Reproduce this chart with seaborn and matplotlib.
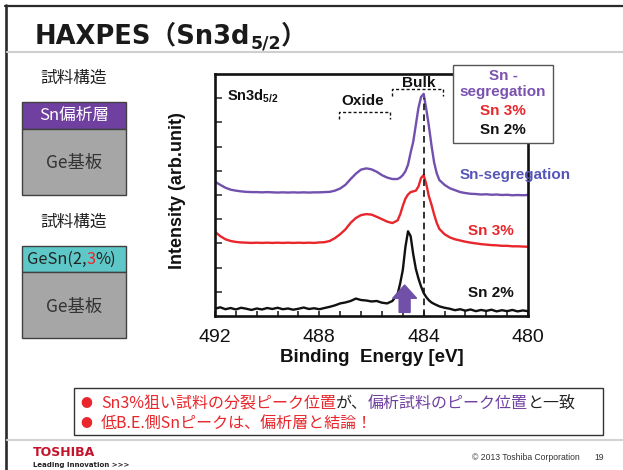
import matplotlib
matplotlib.use("Agg")
import numpy as np
import pandas as pd
import matplotlib.pyplot as plt
import seaborn as sns
from matplotlib.patches import Rectangle
from matplotlib.lines import Line2D
from matplotlib.text import Annotation
from matplotlib.ticker import MultipleLocator, FixedLocator

# ---------------- data ----------------
energy = [492.0, 491.8, 491.6, 491.4, 491.2, 491.0, 490.8, 490.6, 490.4, 490.2,
          490.0, 489.8, 489.6, 489.4, 489.2, 489.0, 488.8, 488.6, 488.4, 488.2,
          488.0, 487.8, 487.6, 487.4, 487.2, 487.0, 486.8, 486.6, 486.4, 486.2,
          486.0, 485.8, 485.6, 485.4, 485.2, 485.0, 484.9, 484.8, 484.7, 484.6,
          484.5, 484.4, 484.3, 484.2, 484.1, 484.0, 483.9, 483.8, 483.7, 483.6,
          483.5, 483.4, 483.2, 483.0, 482.8, 482.6, 482.4, 482.2, 482.0, 481.8,
          481.6, 481.4, 481.2, 481.0, 480.8, 480.6, 480.4, 480.2, 480.0]

sn_segregation = [5.55, 5.42, 5.30, 5.22, 5.18, 5.15, 5.13, 5.12, 5.12, 5.11,
                  5.12, 5.11, 5.10, 5.11, 5.10, 5.11, 5.10, 5.11, 5.10, 5.11,
                  5.11, 5.12, 5.13, 5.18, 5.27, 5.42, 5.66, 5.88, 6.05, 6.10,
                  6.06, 5.96, 5.82, 5.72, 5.66, 5.66, 5.72, 5.82, 5.98, 6.25,
                  6.75, 7.20, 7.90, 8.60, 9.05, 9.18, 8.55, 7.85, 7.05, 6.35,
                  5.90, 5.62, 5.42, 5.28, 5.20, 5.12, 5.08, 5.05, 5.04, 5.02,
                  5.03, 5.01, 5.02, 5.00, 5.01, 4.99, 5.00, 4.99, 5.00]

sn_3pct = [3.48, 3.30, 3.17, 3.10, 3.06, 3.04, 3.03, 3.02, 3.03, 3.02,
           3.03, 3.02, 3.03, 3.02, 3.03, 3.02, 3.03, 3.02, 3.03, 3.02,
           3.04, 3.05, 3.10, 3.22, 3.38, 3.58, 3.85, 4.05, 4.17, 4.21,
           4.19, 4.10, 4.00, 3.90, 3.84, 3.95, 4.20, 4.55, 4.85, 5.02,
           5.12, 5.15, 5.18, 5.35, 5.70, 5.82, 5.45, 4.95, 4.60, 4.20,
           3.85, 3.60, 3.38, 3.25, 3.17, 3.12, 3.07, 3.03, 3.00, 2.97,
           2.95, 2.93, 2.92, 2.90, 2.90, 2.88, 2.88, 2.87, 2.86]

sn_2pct = [0.30, 0.36, 0.28, 0.33, 0.27, 0.34, 0.30, 0.25, 0.31, 0.27,
           0.33, 0.29, 0.34, 0.28, 0.31, 0.26, 0.30, 0.35, 0.29, 0.32,
           0.28, 0.33, 0.38, 0.44, 0.52, 0.56, 0.62, 0.72, 0.66, 0.64,
           0.60, 0.62, 0.55, 0.52, 0.62, 0.90, 1.35, 1.90, 2.85, 3.50,
           3.30, 2.55, 1.95, 1.55, 1.22, 0.95, 0.78, 0.65, 0.56, 0.50,
           0.45, 0.40, 0.34, 0.30, 0.24, 0.28, 0.22, 0.27, 0.20, 0.25,
           0.21, 0.26, 0.19, 0.24, 0.20, 0.25, 0.19, 0.23, 0.20]

series_names = ["Sn-segregation", "Sn 3%", "Sn 2%"]
x_ticks = [492, 488, 484, 480]
x_tick_labels = ["492", "488", "484", "480"]
y_ticks = [1, 2, 3, 4, 5, 6, 7, 8, 9]

# ---------------- style ----------------
PURPLE_LINE = "#7250ae"
PURPLE_LBL = "#5656b6"
PURPLE_BOX = "#7040a0"
RED = "#e8262b"
BLACK = "#111111"
palette = {"Sn-segregation": PURPLE_LINE, "Sn 3%": RED, "Sn 2%": BLACK}

sns.set_theme(style="white")
plt.rcParams["font.family"] = ["Liberation Sans", "Noto Sans CJK JP", "DejaVu Sans"]
plt.rcParams["mathtext.fontset"] = "custom"
plt.rcParams["mathtext.rm"] = "Liberation Sans"
plt.rcParams["mathtext.bf"] = "Liberation Sans:bold"
CJK = ["Noto Sans CJK JP", "DejaVu Sans"]

W, H = 623, 470
fig = plt.figure(figsize=(W / 100, H / 100), dpi=100)
fig.patch.set_facecolor("white")


def fx(x):
    return x / W


def fy(y):
    return 1 - y / H


def chain(pieces, x0, y0, fontsize, family, weight="normal"):
    first = fig.text(fx(x0), fy(y0), pieces[0][0], color=pieces[0][1],
                     fontsize=fontsize, family=family, weight=weight,
                     ha="left", va="baseline")
    prev = first
    for txt, col in pieces[1:]:
        a = Annotation(txt, xy=(1, 0), xycoords=prev, color=col,
                       fontsize=fontsize, family=family, weight=weight,
                       ha="left", va="bottom", annotation_clip=False)
        fig.add_artist(a)
        prev = a
    return first


# ---------------- slide frame ----------------
fig.add_artist(Line2D([fx(5), fx(W)], [fy(5.7), fy(5.7)], color="#2a2a2a", lw=1.6))
fig.add_artist(Line2D([fx(6), fx(6)], [fy(5), fy(H)], color="#2a2a2a", lw=1.9))
fig.add_artist(Line2D([fx(7), fx(W)], [fy(52), fy(52)], color="#cfcfcf", lw=1.5))
fig.add_artist(Line2D([fx(7), fx(W)], [fy(440), fy(440)], color="#d3d3d3", lw=1.5))

# title
t1 = fig.text(fx(35), fy(43), "HAXPES（Sn3d", fontsize=18.5, weight="bold",
              family=["DejaVu Sans", "Noto Sans CJK JP"], color="#1a1a1a",
              ha="left", va="baseline")
tsub = Annotation("5/2", xy=(1, 0), xycoords=t1, xytext=(0, -2.5),
                  textcoords="offset points", fontsize=12.5, weight="bold",
                  family=["DejaVu Sans"], color="#1a1a1a", ha="left", va="bottom",
                  annotation_clip=False)
fig.add_artist(tsub)
tpar = Annotation("）", xy=(1, 0), xycoords=(tsub, t1), fontsize=18.5, weight="bold",
                  family=["DejaVu Sans", "Noto Sans CJK JP"], color="#1a1a1a",
                  ha="left", va="bottom", annotation_clip=False)
fig.add_artist(tpar)

# ---------------- left structure panels ----------------
def box(x0, y0, x1, y1, fc):
    fig.add_artist(Rectangle((fx(x0), fy(y1)), fx(x1) - fx(x0), fy(y0) - fy(y1),
                             transform=fig.transFigure, facecolor=fc,
                             edgecolor="#404040", lw=1.0))

fig.text(fx(74), fy(78), "試料構造", family=CJK, fontsize=12, color="#222222",
         ha="center", va="center")
box(22, 102, 126, 129, PURPLE_BOX)
box(22, 129, 126, 195, "#a6a6a6")
fig.text(fx(74), fy(115.5), "Sn偏析層", family=CJK, fontsize=12, color="white",
         ha="center", va="center")
fig.text(fx(74), fy(163), "Ge基板", family=CJK, fontsize=12.5, color="#333333",
         ha="center", va="center")

fig.text(fx(74), fy(222), "試料構造", family=CJK, fontsize=12, color="#222222",
         ha="center", va="center")
box(22, 246, 126, 272, "#5ec8c8")
box(22, 272, 126, 338, "#a6a6a6")
chain([("GeSn(2,", "#222222"), ("3", RED), ("%)", "#222222")], 27, 264, 11.8, CJK)
fig.text(fx(74), fy(307), "Ge基板", family=CJK, fontsize=12.5, color="#333333",
         ha="center", va="center")

# ---------------- spectrum axes ----------------
ax = fig.add_axes([215 / W, 1 - 316 / H, 313 / W, 242 / H])

frames = []
for name, vals in zip(series_names, [sn_segregation, sn_3pct, sn_2pct]):
    frames.append(pd.DataFrame({"energy": energy, "intensity": vals, "sample": name}))
df = pd.concat(frames, ignore_index=True)

sns.lineplot(data=df, x="energy", y="intensity", hue="sample", hue_order=series_names,
             palette=palette, estimator=None, sort=False, lw=1.7, legend=False, ax=ax)

ax.set_xlim(492, 480)
ax.set_ylim(0, 10)
ax.xaxis.set_major_locator(FixedLocator(x_ticks))
ax.set_xticklabels(x_tick_labels)
ax.xaxis.set_minor_locator(MultipleLocator(0.8))
ax.yaxis.set_major_locator(FixedLocator(y_ticks))
ax.set_yticklabels([])
ax.tick_params(axis="x", which="both", direction="in", length=3.5, width=1.1,
               bottom=True, top=False, labelsize=14, pad=9, colors="#111111")
ax.tick_params(axis="y", which="both", direction="in", length=5, width=1.1,
               left=True, right=False, labelleft=False)
for sp in ax.spines.values():
    sp.set_linewidth(1.9)
    sp.set_color("#111111")

ax.set_xlabel("Binding  Energy [eV]", fontsize=13.5, weight="bold", color="#111111")
ax.xaxis.set_label_coords(0.5, -0.135)
ax.set_ylabel("Intensity (arb.unit)", fontsize=13, weight="bold", color="#111111")
ax.yaxis.set_label_coords(-0.093, 0.52)

# annotations inside plot
ax.text(491.55, 9.09, r"Sn3d$_{\mathbf{5/2}}$", fontsize=10.5, weight="bold",
        color="#111111", ha="left", va="center")
ax.text(486.33, 8.9, "Oxide", fontsize=11, weight="bold", color="#111111",
        ha="center", va="center")
ax.text(484.17, 9.62, "Bulk", fontsize=11, weight="bold", color="#111111",
        ha="center", va="center")
dash = (0, (2.2, 1.6))
ax.plot([487.25, 487.25, 485.29, 485.29], [8.13, 8.44, 8.44, 8.13], color="#111111",
        lw=1.0, ls=dash, clip_on=False)
ax.plot([485.2, 485.2, 483.25, 483.25], [9.09, 9.37, 9.37, 9.09], color="#111111",
        lw=1.0, ls=dash, clip_on=False)
ax.axvline(484.0, ymin=0, ymax=0.9, color="#111111", lw=1.2, ls=(0, (4, 2.5)))
ax.arrow(484.73, 0.15, 0, 1.13, width=0.42, head_width=0.92, head_length=0.55,
         length_includes_head=True, color="#7050a8", zorder=5)

ax.text(480.5, 5.83, "Sn-segregation", fontsize=11, weight="bold", color=PURPLE_LBL,
        ha="center", va="center", clip_on=False)
ax.text(481.42, 3.51, "Sn 3%", fontsize=11, weight="bold", color=RED,
        ha="center", va="center", clip_on=False)
ax.text(481.42, 0.95, "Sn 2%", fontsize=11, weight="bold", color=BLACK,
        ha="center", va="center", clip_on=False)

# legend-like box
fig.add_artist(Rectangle((fx(453), fy(143)), fx(553) - fx(453), fy(65) - fy(143),
                         transform=fig.transFigure, facecolor="white",
                         edgecolor="#555555", lw=1.0, zorder=10))
for txt, col, yy in [("Sn -", "#7a52b0", 76), ("segregation", "#7a52b0", 92),
                     ("Sn 3%", RED, 111), ("Sn 2%", BLACK, 130)]:
    fig.text(fx(503), fy(yy), txt, fontsize=11, weight="bold", color=col,
             ha="center", va="center", zorder=11)

# ---------------- bottom conclusion box ----------------
fig.add_artist(Rectangle((fx(74), fy(435)), fx(603) - fx(74), fy(388) - fy(435),
                         transform=fig.transFigure, facecolor="white",
                         edgecolor="#333333", lw=1.0))
fig.text(fx(86), fy(403), "●", family=CJK, fontsize=8.5, color=RED, ha="center",
         va="center")
fig.text(fx(86), fy(423), "●", family=CJK, fontsize=8.5, color=RED, ha="center",
         va="center")
chain([("Sn3%狙い試料の分裂ピーク位置", RED), ("が、", "#222222"),
       ("偏析試料のピーク位置", PURPLE_BOX), ("と一致", "#222222")],
      101, 408, 11.5, CJK)
chain([("低B.E.側Snピークは、偏析層と結論！", RED)], 101, 428, 11.5, CJK)

# ---------------- footer ----------------
fig.text(fx(33), fy(452), "TOSHIBA", fontsize=9, weight="bold", color="#c4132c",
         family=["DejaVu Sans"], ha="left", va="center")
fig.text(fx(33), fy(465), "Leading Innovation >>>", fontsize=5, weight="bold",
         color="#222222", family=["DejaVu Sans"], ha="left", va="center")
fig.text(fx(472), fy(458), "© 2013 Toshiba Corporation", fontsize=6.2,
         color="#333333", ha="left", va="center")
fig.text(fx(599), fy(458), "19", fontsize=6.2, color="#333333", ha="center",
         va="center")

fig.savefig("out.png", dpi=100)
